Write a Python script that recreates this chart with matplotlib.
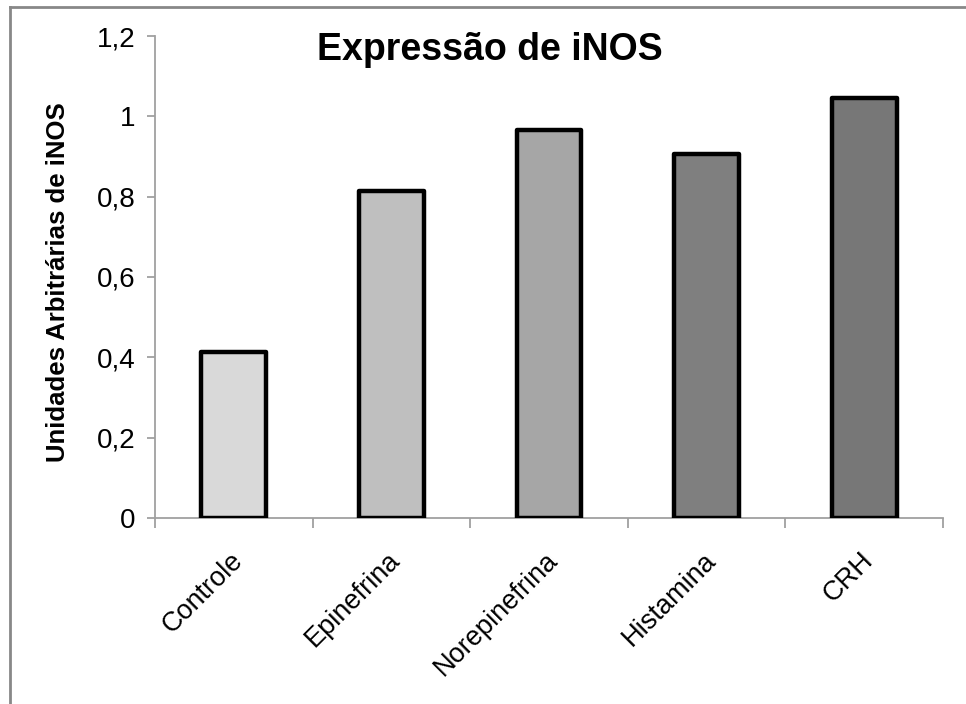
import matplotlib
matplotlib.use("Agg")
import matplotlib.pyplot as plt
from matplotlib.lines import Line2D
from matplotlib.transforms import ScaledTranslation

plt.rcParams['font.family'] = ['Liberation Sans', 'DejaVu Sans']

categories = ["Controle", "Epinefrina", "Norepinefrina", "Histamina", "CRH"]
values = [0.413, 0.813, 0.965, 0.905, 1.045]
colors = ["#d9d9d9", "#bfbfbf", "#a6a6a6", "#7f7f7f", "#777777"]
yticks = [0, 0.2, 0.4, 0.6, 0.8, 1.0, 1.2]
ytick_labels = ["0", "0,2", "0,4", "0,6", "0,8", "1", "1,2"]

fig = plt.figure(figsize=(9.66, 7.04), dpi=100)
ax = fig.add_axes([155 / 966, 1 - 518 / 704, (943 - 155) / 966, (518 - 36) / 704])

centers = [i + 0.5 for i in range(len(categories))]
ax.bar(centers, values, width=0.41, color=colors, edgecolor="black",
       linewidth=3.2, joinstyle="round", zorder=3)

ax.set_xlim(0, len(categories))
ax.set_ylim(0, 1.2)

axis_gray = "#a0a0a0"
for side in ("top", "right"):
    ax.spines[side].set_visible(False)
for side in ("left", "bottom"):
    ax.spines[side].set_color(axis_gray)
    ax.spines[side].set_linewidth(1.3)

ax.set_yticks(yticks)
ax.set_yticklabels(ytick_labels, fontsize=20)
ax.tick_params(axis="y", length=6, width=1.3, color=axis_gray, pad=8)

# category boundaries carry the tick marks, centers carry the labels
ax.set_xticks(range(len(categories) + 1))
ax.set_xticklabels([])
ax.tick_params(axis="x", which="major", length=7, width=1.3, color=axis_gray)
ax.set_xticks(centers, minor=True)
ax.set_xticklabels(categories, minor=True, fontsize=19.5, rotation=45,
                   ha="right", va="top", rotation_mode="anchor")
ax.tick_params(axis="x", which="minor", length=0, pad=21)
shift = ScaledTranslation(-4 / 100, 0, fig.dpi_scale_trans)
for lbl in ax.get_xticklabels(minor=True):
    lbl.set_transform(lbl.get_transform() + shift)

ax.set_ylabel("Unidades Arbitrárias de iNOS", fontsize=18.5, fontweight="bold")
ax.yaxis.set_label_coords(-85 / 788, (518 - 282) / 482)

fig.text(490 / 966, 1 - 50 / 704, "Expressão de iNOS", fontsize=27,
         fontweight="bold", ha="center", va="center")

# outer chart frame (top and left edges)
frame_gray = "#888888"
fig.add_artist(Line2D([10 / 966, 1], [1 - 7 / 704, 1 - 7 / 704],
                      transform=fig.transFigure, color=frame_gray, linewidth=2))
fig.add_artist(Line2D([10 / 966, 10 / 966], [0, 1 - 7 / 704],
                      transform=fig.transFigure, color=frame_gray, linewidth=2))

fig.savefig("out.png", dpi=100)
